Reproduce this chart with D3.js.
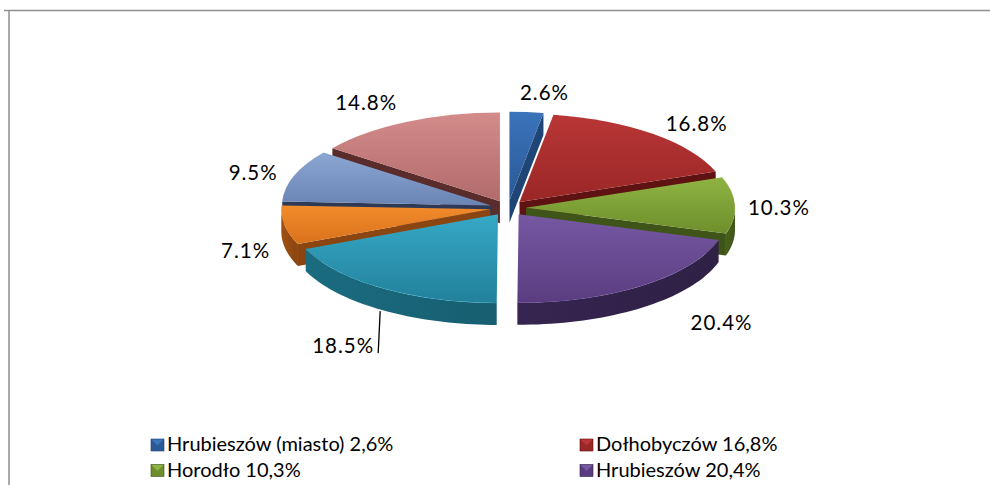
<!DOCTYPE html>
<html>
<head>
<meta charset="utf-8">
<script src="https://cdn.jsdelivr.net/npm/d3@7"></script>
<style>
  body { margin: 0; background: #fff; }
  svg { display: block; font-family: Lato, "Open Sans", sans-serif; }
</style>
</head>
<body>
<svg id="chart" width="990" height="485"></svg>
<script>
// data
const categories = ['Hrubieszów (miasto)', 'Dołhobyczów', 'Horodło', 'Hrubieszów',
                    'Mircze', 'Trzeszczany', 'Uchanie', 'Werbkowice'];
const values = [2.6, 16.8, 10.3, 20.4, 18.5, 7.1, 9.5, 14.8];

// colours: top face (light, dark) and side face
const topLight = ['#3b74bb', '#b93636', '#8fb443', '#7658a3', '#36a8c6', '#f28c2c', '#8ca6d4', '#d38c8a'];
const topDark  = ['#2a5996', '#9a2626', '#6e8e2b', '#5a3d80', '#22819b', '#d9711b', '#6a84b4', '#b26b6b'];
const sideCol  = ['#1e4575', '#5e1212', '#3f5418', '#2f2045', '#175e70', '#8a4510', '#2e3a55', '#5a2c2c'];

// label shifts from the rim point (Excel "best fit" placement)
const labelShift = [[18, -19], [44, -10], [44, 2], [79, 37], [-39, 58], [-39, 25], [-41, -3], [-40, -19]];

const W = 990, H = 485;
const svg = d3.select('#chart');
const cx = 508, cy = 208;
const rx = 209, ry = 88.6;
const k = ry / rx;
const depth = 22;
const explode = 18;

// frame
svg.append('path')
    .attr('d', 'M4,10.5H990M9,10.5V485')
    .attr('fill', 'none')
    .attr('stroke', '#8f8f8f')
    .attr('stroke-width', 1.5);

const pie = d3.pie().sort(null).value(d => d);
const slices = pie(values).map((d, i) => {
    const mid = (d.startAngle + d.endAngle) / 2;
    d.i = i;
    d.mid = mid;
    d.off = {x: explode * Math.sin(mid), y: -explode * Math.cos(mid) * k};
    return d;
});

function pt(d, a, r, down) {
    return [cx + d.off.x + r * Math.sin(a), cy + d.off.y - r * Math.cos(a) * k + (down || 0)];
}

// gradients
const defs = svg.append('defs');
slices.forEach(d => {
    const g = defs.append('linearGradient')
        .attr('id', 'g' + d.i)
        .attr('x1', 0).attr('y1', 0).attr('x2', 0).attr('y2', 1);
    g.append('stop').attr('offset', '0%').attr('stop-color', topLight[d.i]);
    g.append('stop').attr('offset', '100%').attr('stop-color', topDark[d.i]);
    const s = defs.append('linearGradient')
        .attr('id', 's' + d.i)
        .attr('x1', 0).attr('y1', 0).attr('x2', 1).attr('y2', 0);
    s.append('stop').attr('offset', '0%').attr('stop-color', d3.color(sideCol[d.i]).brighter(0.4));
    s.append('stop').attr('offset', '100%').attr('stop-color', sideCol[d.i]);
});

const line = d3.line();
const pieG = svg.append('g');

// radial walls facing the viewer
const walls = [];
slices.forEach(d => {
    if (Math.sin(d.startAngle) < -0.01) walls.push({d, a: d.startAngle});
    if (Math.sin(d.endAngle) > 0.01) walls.push({d, a: d.endAngle});
});
walls.sort((a, b) => pt(a.d, a.a, rx / 2)[1] - pt(b.d, b.a, rx / 2)[1]);
walls.forEach(w => {
    const c0 = pt(w.d, 0, 0), r0 = pt(w.d, w.a, rx);
    pieG.append('path')
        .attr('d', line([c0, r0, [r0[0], r0[1] + depth], [c0[0], c0[1] + depth]]) + 'Z')
        .attr('fill', sideCol[w.d.i]);
});

// outer walls (front half)
slices.forEach(d => {
    const a0 = Math.max(d.startAngle, Math.PI / 2);
    const a1 = Math.min(d.endAngle, Math.PI * 1.5);
    if (a1 <= a0) return;
    const n = 40;
    const angles = d3.range(n + 1).map(j => a0 + (a1 - a0) * j / n);
    const pts = angles.map(a => pt(d, a, rx)).concat(angles.slice().reverse().map(a => pt(d, a, rx, depth)));
    pieG.append('path')
        .attr('d', line(pts) + 'Z')
        .attr('fill', 'url(#s' + d.i + ')');
    // thin highlight along the top rim
    pieG.append('path')
        .attr('d', line(angles.map(a => pt(d, a, rx - 0.5))))
        .attr('fill', 'none')
        .attr('stroke', d3.color(topLight[d.i]).brighter(0.5))
        .attr('stroke-opacity', 0.6)
        .attr('stroke-width', 1);
});

// top faces
const arc = d3.arc().innerRadius(0).outerRadius(rx);
slices.forEach(d => {
    pieG.append('path')
        .attr('d', arc(d))
        .attr('transform', `translate(${cx + d.off.x},${cy + d.off.y}) scale(1,${k})`)
        .attr('fill', 'url(#g' + d.i + ')');
});

// labels
const fmt = v => v.toFixed(1) + '%';
slices.forEach(d => {
    const rim = pt(d, d.mid, rx);
    const lx = rim[0] + labelShift[d.i][0];
    const ly = rim[1] + labelShift[d.i][1];
    svg.append('text')
        .attr('x', lx).attr('y', ly)
        .attr('dy', '0.36em')
        .attr('text-anchor', 'middle')
        .attr('font-size', 20.5)
        .attr('letter-spacing', 1)
        .attr('fill', '#000')
        .text(fmt(values[d.i]));
    // leader line for labels pushed away from the slice
    if (labelShift[d.i][1] > 45) {
        svg.append('path')
            .attr('d', line([[rim[0] - 2, rim[1] + depth + 1], [lx + 35, ly + 7]]))
            .attr('stroke', '#000')
            .attr('stroke-width', 1.3);
    }
});

// legend (two columns; only the rows that fit in the frame are shown)
const legend = svg.append('g');
const colX = [151, 580];
const rowY = 451, rowH = 25.5;
categories.forEach((name, i) => {
    const x = colX[i % 2];
    const y = rowY + Math.floor(i / 2) * rowH;
    if (y > H) return;
    const g = legend.append('g').attr('transform', `translate(${x},${y})`);
    g.append('rect')
        .attr('x', 0).attr('y', -12).attr('width', 13).attr('height', 12)
        .attr('fill', topDark[i])
        .attr('stroke', sideCol[i]).attr('stroke-width', 0.6);
    g.append('path')
        .attr('d', 'M0.5,-11.5L12.5,-11.5L6.5,-5.5Z')
        .attr('fill', topLight[i]);
    g.append('text')
        .attr('x', 16).attr('y', 0)
        .attr('font-size', 20)
        .attr('fill', '#000')
        .text(name + ' ' + values[i].toFixed(1).replace('.', ',') + '%');
});
</script>
</body>
</html>
